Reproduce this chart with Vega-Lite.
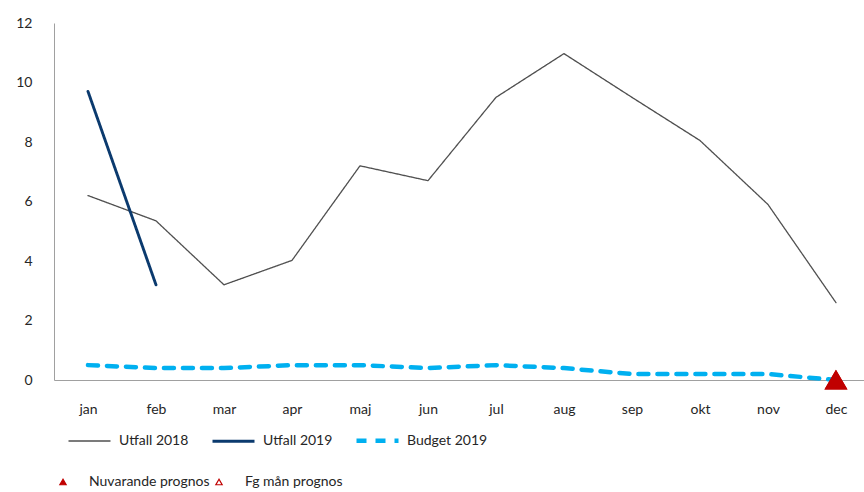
{
  "$schema": "https://vega.github.io/schema/vega-lite/v6.json",
  "autosize": {"type": "none"},
  "padding": {"left": 54, "top": 23, "right": 0, "bottom": 112},
  "width": 810,
  "height": 357,
  "datasets": {
    "lines": [
      {"month": "jan", "series": "Utfall 2018", "value": 6.2},
      {"month": "feb", "series": "Utfall 2018", "value": 5.35},
      {"month": "mar", "series": "Utfall 2018", "value": 3.2},
      {"month": "apr", "series": "Utfall 2018", "value": 4.02},
      {"month": "maj", "series": "Utfall 2018", "value": 7.2},
      {"month": "jun", "series": "Utfall 2018", "value": 6.7},
      {"month": "jul", "series": "Utfall 2018", "value": 9.5},
      {"month": "aug", "series": "Utfall 2018", "value": 10.97},
      {"month": "sep", "series": "Utfall 2018", "value": 9.5},
      {"month": "okt", "series": "Utfall 2018", "value": 8.05},
      {"month": "nov", "series": "Utfall 2018", "value": 5.9},
      {"month": "dec", "series": "Utfall 2018", "value": 2.6},
      {"month": "jan", "series": "Utfall 2019", "value": 9.7},
      {"month": "feb", "series": "Utfall 2019", "value": 3.2},
      {"month": "jan", "series": "Budget 2019", "value": 0.5},
      {"month": "feb", "series": "Budget 2019", "value": 0.4},
      {"month": "mar", "series": "Budget 2019", "value": 0.4},
      {"month": "apr", "series": "Budget 2019", "value": 0.5},
      {"month": "maj", "series": "Budget 2019", "value": 0.5},
      {"month": "jun", "series": "Budget 2019", "value": 0.4},
      {"month": "jul", "series": "Budget 2019", "value": 0.5},
      {"month": "aug", "series": "Budget 2019", "value": 0.4},
      {"month": "sep", "series": "Budget 2019", "value": 0.2},
      {"month": "okt", "series": "Budget 2019", "value": 0.2},
      {"month": "nov", "series": "Budget 2019", "value": 0.2},
      {"month": "dec", "series": "Budget 2019", "value": 0.0}
    ],
    "prog": [
      {"month": "dec", "prognos": "Fg mån prognos", "value": 0},
      {"month": "dec", "prognos": "Nuvarande prognos", "value": 0}
    ]
  },
  "encoding": {
    "x": {
      "field": "month", "type": "ordinal",
      "sort": ["jan","feb","mar","apr","maj","jun","jul","aug","sep","okt","nov","dec"],
      "scale": {"domain": ["jan","feb","mar","apr","maj","jun","jul","aug","sep","okt","nov","dec"], "padding": 0.456, "align": 0.548},
      "axis": {"title": null, "labelAngle": 0, "ticks": false, "labelPadding": 22, "domainColor": "#a0a0a0", "grid": false}
    },
    "y": {
      "field": "value", "type": "quantitative",
      "scale": {"domain": [0, 12], "nice": false, "zero": true},
      "axis": {"title": null, "values": [0,2,4,6,8,10,12], "ticks": false, "labelPadding": 22, "domainColor": "#a0a0a0", "grid": false}
    }
  },
  "layer": [
    {
      "data": {"name": "lines"},
      "mark": {"type": "line", "strokeCap": "round", "strokeJoin": "round"},
      "encoding": {
        "color": {
          "field": "series", "type": "nominal",
          "scale": {"domain": ["Utfall 2018","Utfall 2019","Budget 2019"], "range": ["#505050","#0b3a6e","#00b0f0"]},
          "legend": {
            "title": null, "orient": "none", "legendX": 12, "legendY": 394,
            "direction": "horizontal", "columns": 3, "symbolType": "stroke",
            "symbolSize": 1764, "labelOffset": 6, "columnPadding": 3, "gridAlign": "all"
          }
        },
        "strokeDash": {
          "field": "series", "type": "nominal",
          "scale": {"domain": ["Utfall 2018","Utfall 2019","Budget 2019"], "range": [[1,0],[1,0],[10,9]]}
        },
        "strokeWidth": {
          "field": "series", "type": "nominal",
          "scale": {"domain": ["Utfall 2018","Utfall 2019","Budget 2019"], "range": [1.3,4.5,4.5]}
        }
      }
    },
    {
      "data": {"name": "prog"},
      "mark": {"type": "point", "shape": "triangle-up", "filled": true, "size": 420, "stroke": "#c00000", "strokeWidth": 1.5, "opacity": 1},
      "encoding": {
        "fill": {
          "field": "prognos", "type": "nominal",
          "scale": {"domain": ["Nuvarande prognos","Fg mån prognos"], "range": ["#c00000","#ffffff"]},
          "legend": {
            "title": null, "orient": "none", "legendX": 2, "legendY": 452,
            "direction": "horizontal", "columns": 2, "symbolType": "triangle-up",
            "symbolSize": 40, "symbolStrokeColor": "#c00000", "symbolStrokeWidth": 1.2,
            "labelOffset": 19, "columnPadding": 2
          }
        },
        "order": {"field": "prognos", "sort": "ascending"}
      }
    }
  ],
  "config": {
    "view": {"stroke": null},
    "font": "Lato",
    "axis": {"labelFont": "Lato", "labelFontSize": 14, "labelColor": "#262626"},
    "legend": {"labelFont": "Lato", "labelFontSize": 14, "labelColor": "#262626"}
  }
}
